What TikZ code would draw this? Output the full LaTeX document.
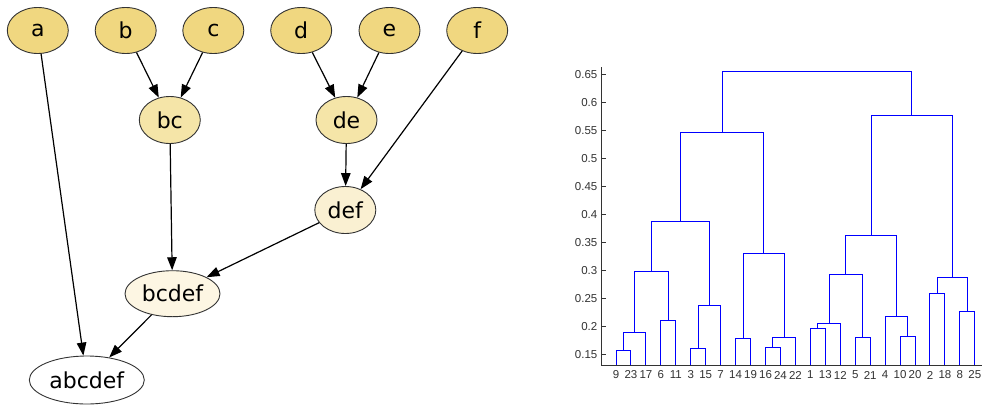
\documentclass[tikz,border=0pt]{standalone}
\usepackage{fontspec}
\setmainfont{DejaVu Sans}
\newfontfamily\axisfont{Liberation Sans}
\usetikzlibrary{shapes.geometric,arrows.meta}
\definecolor{lvA}{HTML}{F0D780}
\definecolor{lvB}{HTML}{F5E5A8}
\definecolor{lvC}{HTML}{FAF0D2}
\definecolor{lvD}{HTML}{FDF6E3}
\definecolor{dblue}{RGB}{0,0,255}
\newcommand{\DX}[1]{616+14.95*(#1)}
\newcommand{\DY}[1]{354.7-((#1)-0.15)*560}
\newcommand{\dlink}[5]{\draw[dend] ({\DX{#1}},{\DY{#2}}) |- ({\DX{#3}},{\DY{#5}}) -- ({\DX{#3}},{\DY{#4}});}
\begin{document}
\begin{tikzpicture}[x=1pt,y=-1pt,
  gnode/.style={ellipse,draw=black!80,line width=0.9pt,inner sep=0pt,minimum height=46pt,minimum width=61pt,font=\fontsize{22}{26}\selectfont},
  edge/.style={line width=1.2pt,-{Triangle[length=13pt,width=9.5pt]}},
  dend/.style={dblue,line width=1pt},
  axisline/.style={black!80,line width=1pt},
  ticklab/.style={font=\axisfont\fontsize{11.5}{13}\selectfont,text=black!80,inner sep=0pt}
]
\useasboundingbox[fill=white] (0,0) rectangle (982,405);
% graph
\node[gnode,fill=lvA] (a) at (37.8,30.5) {a};
\node[gnode,fill=lvA] (b) at (125.7,30.5) {b};
\node[gnode,fill=lvA] (c) at (213.3,30.5) {c};
\node[gnode,fill=lvA] (d) at (301.2,30.5) {d};
\node[gnode,fill=lvA] (e) at (389.5,30.5) {e};
\node[gnode,fill=lvA] (f) at (477.2,30.5) {f};
\node[gnode,fill=lvB,minimum height=47pt] (bc) at (169.8,120) {bc};
\node[gnode,fill=lvB,minimum height=47pt] (de) at (346.5,120) {de};
\node[gnode,fill=lvC,minimum height=47pt] (def) at (345.3,210) {def};
\node[gnode,fill=lvD,minimum width=95pt] (bcdef) at (172.5,293.7) {bcdef};
\node[gnode,fill=white,minimum width=115pt,minimum height=48pt] (abcdef) at (86.8,380) {abcdef};
\draw[edge] (a) -- (abcdef);
\draw[edge] (b) -- (bc);
\draw[edge] (c) -- (bc);
\draw[edge] (d) -- (de);
\draw[edge] (e) -- (de);
\draw[edge] (de) -- (def);
\draw[edge] (f) -- (def);
\draw[edge] (bc) -- (bcdef);
\draw[edge] (def) -- (bcdef);
\draw[edge] (bcdef) -- (abcdef);
% dendrogram axes
\draw[axisline] (601.7,67) -- (601.7,365) -- (982,365);
\foreach \v/\t in {0.15/0.15,0.2/0.2,0.25/0.25,0.3/0.3,0.35/0.35,0.4/0.4,0.45/0.45,0.5/0.5,0.55/0.55,0.6/0.6,0.65/0.65}{
  \draw[axisline] (601.7,{\DY{\v}}) -- ++(4,0);
  \node[ticklab,anchor=east] at (597.5,{\DY{\v}}) {\t};
}
\foreach \k/\t in {0/9,1/23,2/17,3/6,4/11,5/3,6/15,7/7,8/14,9/19,10/16,11/24,12/22,13/1,14/13,15/12,16/5,17/21,18/4,19/10,20/20,21/2,22/18,23/8,24/25}{
  \node[ticklab] at ({\DX{\k}},375) {\t};
}
% dendrogram links
\def\bb{0.1316}
\dlink{0}{\bb}{1}{\bb}{0.157}
\dlink{0.5}{0.157}{2}{\bb}{0.189}
\dlink{3}{\bb}{4}{\bb}{0.211}
\dlink{1.25}{0.189}{3.5}{0.211}{0.298}
\dlink{5}{\bb}{6}{\bb}{0.161}
\dlink{5.5}{0.161}{7}{\bb}{0.237}
\dlink{2.375}{0.298}{6.25}{0.237}{0.387}
\dlink{8}{\bb}{9}{\bb}{0.179}
\dlink{10}{\bb}{11}{\bb}{0.162}
\dlink{10.5}{0.162}{12}{\bb}{0.181}
\dlink{8.5}{0.179}{11.25}{0.181}{0.331}
\dlink{4.3125}{0.387}{9.875}{0.331}{0.546}
\dlink{13}{\bb}{14}{\bb}{0.197}
\dlink{13.5}{0.197}{15}{\bb}{0.205}
\dlink{16}{\bb}{17}{\bb}{0.181}
\dlink{14.25}{0.205}{16.5}{0.181}{0.294}
\dlink{19}{\bb}{20}{\bb}{0.183}
\dlink{18}{\bb}{19.5}{0.183}{0.218}
\dlink{15.375}{0.294}{18.75}{0.218}{0.363}
\dlink{21}{\bb}{22}{\bb}{0.260}
\dlink{23}{\bb}{24}{\bb}{0.228}
\dlink{21.5}{0.260}{23.5}{0.228}{0.288}
\dlink{17.0625}{0.363}{22.5}{0.288}{0.577}
\dlink{7.09375}{0.546}{19.78125}{0.577}{0.655}
\end{tikzpicture}
\end{document}
